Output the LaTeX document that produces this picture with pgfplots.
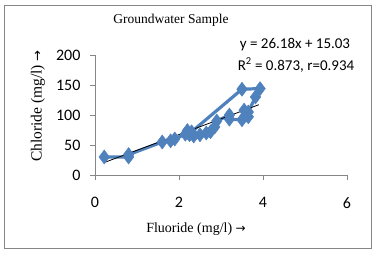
\documentclass[border=0pt]{standalone}
\usepackage{pgfplots}
\pgfplotsset{compat=1.18}
\usepackage{fontspec}
\setmainfont{Liberation Serif}
\newfontfamily\carlito{Carlito}
\newfontfamily\dv{DejaVu Sans}
\definecolor{xlblue}{RGB}{79,129,189}
\definecolor{axgray}{RGB}{134,134,134}
\begin{document}
\begin{tikzpicture}
\path[use as bounding box] (-95pt,-82pt) rectangle (281pt,175pt);
\draw[axgray, line width=0.8pt] (-91pt,-73pt) rectangle (276pt,170pt);
\begin{axis}[
  at={(0,0)}, anchor=south west,
  scale only axis, width=252pt, height=120pt,
  xmin=0, xmax=6, ymin=0, ymax=200,
  axis lines*=left,
  axis line style={axgray, line width=0.8pt},
  xtick={0,2,4,6}, ytick={0,50,100,150,200},
  tick style={axgray, line width=0.8pt},
  tick align=outside, major tick length=5pt,
  minor tick num=0,
  /pgf/number format/assume math mode=true,
  tick label style={font=\carlito\fontsize{16}{18}\selectfont, text=black},
  xticklabel style={yshift=-14pt},
  yticklabel style={xshift=-6pt},
  clip=false,
]
\addplot[xlblue, line width=3.2pt, mark=diamond*, mark size=7pt,
  mark options={fill=xlblue, draw=xlblue, line width=0.5pt}] coordinates {
(0.22,30) (0.8,30) (0.8,34) (1.6,55) (1.8,57) (1.9,60) (2.15,68) (2.2,74) (2.3,72)
(3.5,143) (3.93,144) (3.82,130) (3.65,105) (3.55,108) (3.6,100) (3.65,97) (3.5,92)
(3.2,93) (3.2,100) (2.9,90) (2.85,80) (2.75,72) (2.65,70) (2.5,67) (2.35,65) (2.25,67)
};
\addplot[black, line width=0.8pt] coordinates {(0.25,21.58) (3.9,117.13)};
\end{axis}
\node[font=\fontsize{13.5}{16}\selectfont] at (76pt,155pt) {Groundwater Sample};
\node[font=\carlito\fontsize{15}{17}\selectfont] at (200pt,130pt) {y = 26.18x + 15.03};
\node[font=\carlito\fontsize{15}{17}\selectfont] at (201pt,110pt) {R\textsuperscript{2} = 0.873, r=0.934};
\node[font=\fontsize{15.5}{17}\selectfont, rotate=90] at (-57pt,69pt) {Chloride (mg/l) {\dv\fontsize{13}{15}\selectfont →}};
\node[font=\fontsize{14}{16}\selectfont] at (101pt,-54pt) {Fluoride (mg/l) {\dv\fontsize{12}{15}\selectfont →}};
\end{tikzpicture}
\end{document}
